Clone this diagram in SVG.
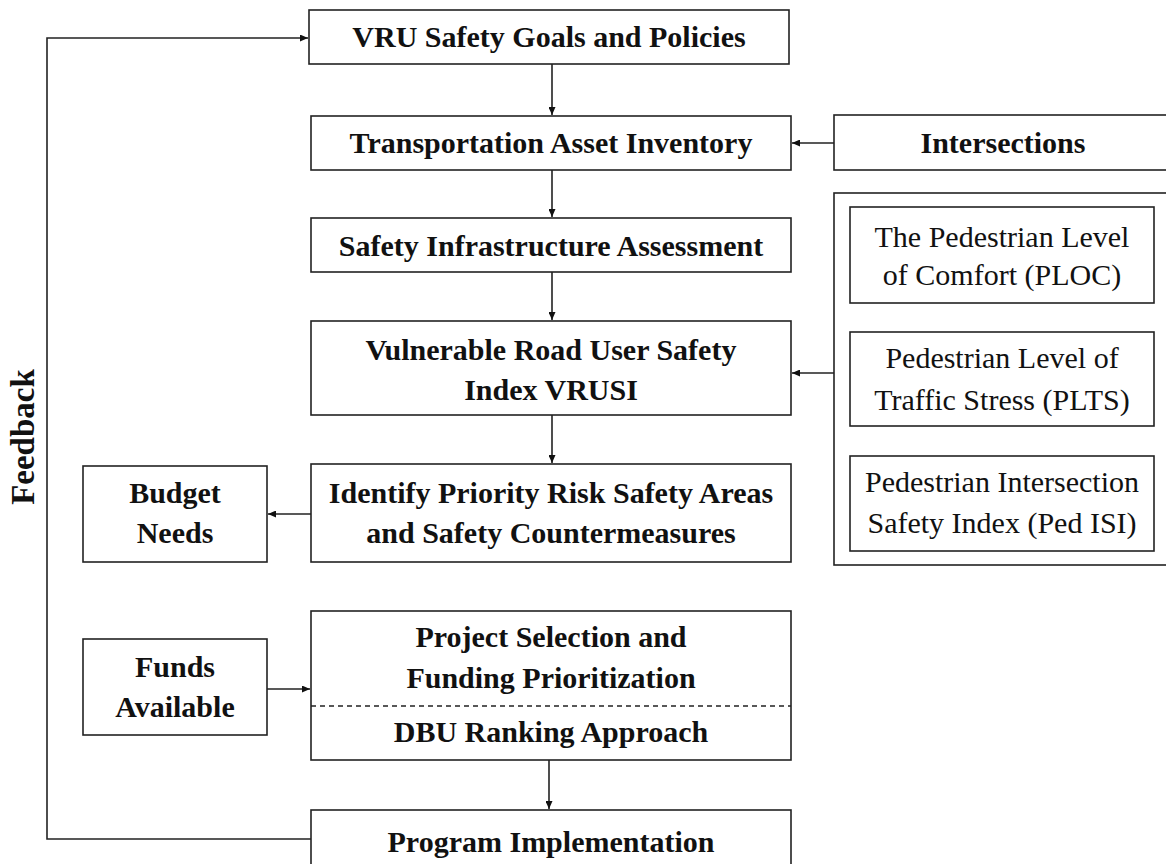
<svg xmlns="http://www.w3.org/2000/svg" width="1166" height="864" viewBox="0 0 1166 864">
<style>
.box{fill:#fff;stroke:#222;stroke-width:1.6}
.b{font-family:"Liberation Serif","Times New Roman",serif;font-weight:bold;font-size:30px;fill:#111;text-anchor:middle}
.r{font-family:"Liberation Serif","Times New Roman",serif;font-size:30px;fill:#111;text-anchor:middle}
.c{fill:none;stroke:#222;stroke-width:1.6}
</style>
<defs>
<marker id="ah" viewBox="0 0 10 10" refX="10" refY="5" markerWidth="8" markerHeight="7" orient="auto" markerUnits="userSpaceOnUse" preserveAspectRatio="none">
<path d="M0,0 L10,5 L0,10 z" fill="#111"/>
</marker>
</defs>
<rect width="1166" height="864" fill="#fff"/>
<g id="connectors">
<polyline class="c" points="311,839 47,839 47,38 308,38" marker-end="url(#ah)"/>
<line class="c" x1="552" y1="64" x2="552" y2="115" marker-end="url(#ah)"/>
<line class="c" x1="552" y1="170" x2="552" y2="217" marker-end="url(#ah)"/>
<line class="c" x1="552" y1="272" x2="552" y2="320" marker-end="url(#ah)"/>
<line class="c" x1="552" y1="415" x2="552" y2="463" marker-end="url(#ah)"/>
<line class="c" x1="834" y1="143" x2="792" y2="143" marker-end="url(#ah)"/>
<line class="c" x1="834" y1="373" x2="792" y2="373" marker-end="url(#ah)"/>
<line class="c" x1="311" y1="514" x2="268" y2="514" marker-end="url(#ah)"/>
<line class="c" x1="267" y1="689" x2="310" y2="689" marker-end="url(#ah)"/>
<line class="c" x1="549" y1="760" x2="549" y2="809" marker-end="url(#ah)"/>
</g>
<g id="feedback">
<text class="b" transform="translate(34,437) rotate(-90)" style="font-size:33px">Feedback</text>
</g>
<g id="vru-goals">
<rect class="box" x="309" y="10" width="480" height="54"/>
<text class="b" x="549" y="47">VRU Safety Goals and Policies</text>
</g>
<g id="asset-inventory">
<rect class="box" x="311" y="116" width="480" height="54"/>
<text class="b" x="551" y="153">Transportation Asset Inventory</text>
</g>
<g id="intersections">
<rect class="box" x="834" y="115" width="340" height="55"/>
<text class="b" x="1003" y="153">Intersections</text>
</g>
<g id="infra-assessment">
<rect class="box" x="311" y="218" width="480" height="54"/>
<text class="b" x="551" y="256">Safety Infrastructure Assessment</text>
</g>
<g id="vrusi">
<rect class="box" x="311" y="321" width="480" height="94"/>
<text class="b" x="551" y="360">Vulnerable Road User Safety</text>
<text class="b" x="551" y="400">Index VRUSI</text>
</g>
<g id="indices">
<rect class="box" x="834" y="193" width="340" height="372"/>
<g id="ploc">
<rect class="box" x="850" y="207" width="304" height="96"/>
<text class="r" x="1002" y="247">The Pedestrian Level</text>
<text class="r" x="1002" y="285">of Comfort (PLOC)</text>
</g>
<g id="plts">
<rect class="box" x="850" y="332" width="304" height="94"/>
<text class="r" x="1002" y="368">Pedestrian Level of</text>
<text class="r" x="1002" y="410">Traffic Stress (PLTS)</text>
</g>
<g id="pedisi">
<rect class="box" x="850" y="456" width="304" height="95"/>
<text class="r" x="1002" y="492">Pedestrian Intersection</text>
<text class="r" x="1002" y="533">Safety Index (Ped ISI)</text>
</g>
</g>
<g id="identify">
<rect class="box" x="311" y="464" width="480" height="98"/>
<text class="b" x="551" y="503">Identify Priority Risk Safety Areas</text>
<text class="b" x="551" y="543">and Safety Countermeasures</text>
</g>
<g id="budget">
<rect class="box" x="83" y="466" width="184" height="96"/>
<text class="b" x="175" y="503">Budget</text>
<text class="b" x="175" y="543">Needs</text>
</g>
<g id="funds">
<rect class="box" x="83" y="639" width="184" height="96"/>
<text class="b" x="175" y="677">Funds</text>
<text class="b" x="175" y="717">Available</text>
</g>
<g id="project-selection">
<rect class="box" x="311" y="611" width="480" height="149"/>
<line x1="311" y1="706" x2="791" y2="706" stroke="#222" stroke-width="1.4" stroke-dasharray="5,4"/>
<text class="b" x="551" y="647">Project Selection and</text>
<text class="b" x="551" y="688">Funding Prioritization</text>
<text class="b" x="551" y="742">DBU Ranking Approach</text>
</g>
<g id="program">
<rect class="box" x="311" y="810" width="480" height="70"/>
<text class="b" x="551" y="852">Program Implementation</text>
</g>
</svg>
